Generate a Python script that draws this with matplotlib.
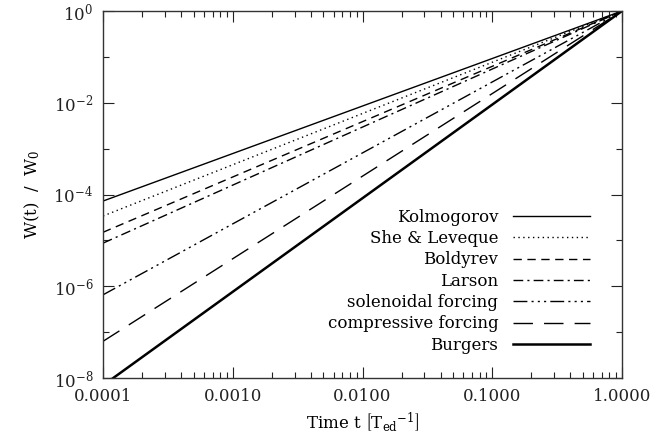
import matplotlib
matplotlib.use('Agg')
import matplotlib.pyplot as plt
import numpy as np
from matplotlib.ticker import FixedLocator, FuncFormatter, NullFormatter

plt.rcParams['font.family'] = 'DejaVu Serif'
plt.rcParams['mathtext.fontset'] = 'dejavuserif'

# time endpoints and W(t)/W0 read at t = 1e-4 and t = 1
t = [1e-4, 1.0]
kolmogorov = [7.2e-5, 1.0]
she_leveque = [3.4e-5, 1.0]
boldyrev = [1.5e-5, 1.0]
larson = [8.7e-6, 1.0]
solenoidal = [6.5e-7, 1.0]
compressive = [6.3e-8, 1.0]
burgers = [6.9e-9, 1.0]

labels = ['Kolmogorov', 'She & Leveque', 'Boldyrev', 'Larson',
          'solenoidal forcing', 'compressive forcing', 'Burgers']

fig = plt.figure(figsize=(6.65, 4.43), dpi=100)
ax = fig.add_axes([103 / 665, 1 - 378 / 443, (622 - 103) / 665, (378 - 11) / 443])

c = 'black'
ax.plot(t, kolmogorov, color=c, lw=1.0, label=labels[0])
ax.plot(t, she_leveque, color=c, lw=1.0, linestyle=(0, (1, 2.5)), label=labels[1])
ax.plot(t, boldyrev, color=c, lw=1.0, linestyle=(0, (6, 4)), label=labels[2])
ax.plot(t, larson, color=c, lw=1.0, linestyle=(0, (7, 3, 1.5, 3)), label=labels[3])
ax.plot(t, solenoidal, color=c, lw=1.0, linestyle=(0, (10, 3, 1.5, 3, 1.5, 3, 1.5, 3)), label=labels[4])
ax.plot(t, compressive, color=c, lw=1.0, linestyle=(0, (14, 8)), label=labels[5])
ax.plot(t, burgers, color=c, lw=1.8, label=labels[6])

ax.set_xscale('log')
ax.set_yscale('log')
ax.set_xlim(1e-4, 1.0)
ax.set_ylim(1e-8, 1.0)

xmaj = [1e-4, 1e-3, 1e-2, 1e-1, 1.0]
xminor = [m * d for d in xmaj[:-1] for m in range(2, 10)]
ymaj = [1e-8, 1e-6, 1e-4, 1e-2, 1.0]
yminor = [1e-7, 1e-5, 1e-3, 1e-1]

ax.xaxis.set_major_locator(FixedLocator(xmaj))
ax.xaxis.set_minor_locator(FixedLocator(xminor))
ax.xaxis.set_major_formatter(FuncFormatter(lambda v, p: '%.4f' % v))
ax.xaxis.set_minor_formatter(NullFormatter())
ax.yaxis.set_major_locator(FixedLocator(ymaj))
ax.yaxis.set_minor_locator(FixedLocator(yminor))
ax.yaxis.set_major_formatter(FuncFormatter(lambda v, p: r'$10^{%d}$' % round(np.log10(v))))
ax.yaxis.set_minor_formatter(NullFormatter())

ax.tick_params(which='both', direction='in', top=True, right=True,
               labelsize=12, colors='#222222', width=0.8)
ax.tick_params(which='major', length=8, pad=7)
ax.tick_params(which='minor', length=4)
for s in ax.spines.values():
    s.set_linewidth(1.0)
    s.set_color('#333333')

ax.set_xlabel(r'Time t $\left[\mathrm{T}_{\mathrm{ed}}{}^{-1}\right]$', fontsize=12, labelpad=4)
ax.set_ylabel(r'W(t)  /  W$_0$', fontsize=12, labelpad=8)

leg = ax.legend(loc='lower right', bbox_to_anchor=(0.938, 0.066), frameon=False,
                markerfirst=False, fontsize=12, handlelength=4.6,
                labelspacing=0.26, handletextpad=0.9, borderpad=0,
                borderaxespad=0)

fig.savefig('out.png', dpi=100)
